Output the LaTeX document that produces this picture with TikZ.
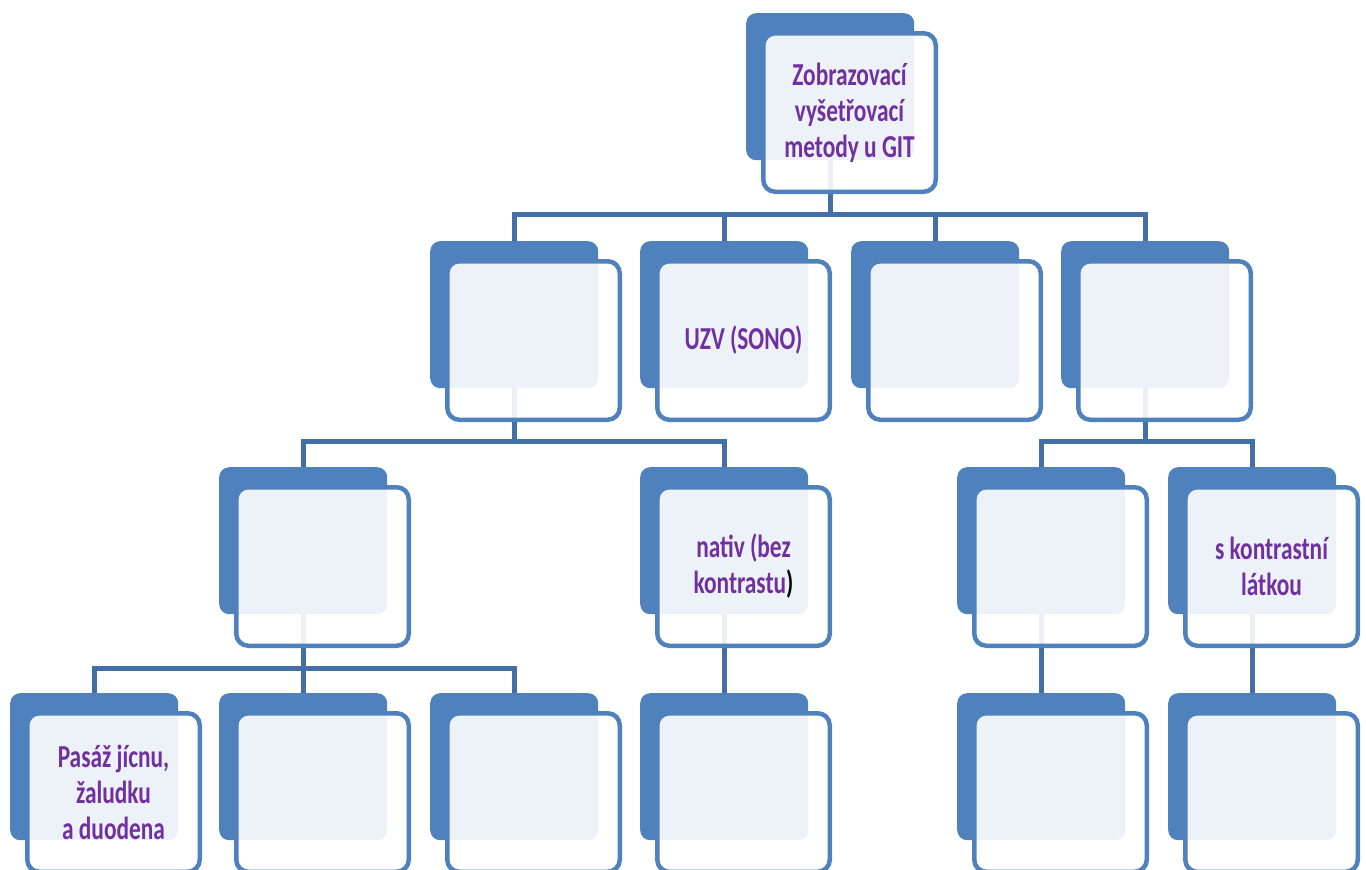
\documentclass[tikz,border=0pt]{standalone}
\usepackage{fontspec}
\setmainfont{Carlito}[FakeStretch=0.73]
\usetikzlibrary{backgrounds}
\definecolor{dlazdice}{RGB}{79,129,189}
\definecolor{spojnice}{RGB}{68,110,166}
\definecolor{pismo}{RGB}{112,48,160}
\tikzset{
  zadni/.style={fill=dlazdice, rounded corners=10pt, anchor=north west,
    minimum width=168pt, minimum height=147pt, inner sep=0pt},
  predni/.style={draw=dlazdice, line width=4.5pt, fill=white, fill opacity=0.9,
    text opacity=1, rounded corners=12pt, anchor=north west,
    minimum width=172.5pt, minimum height=158.5pt, inner sep=0pt,
    text=pismo, align=center, font=\fontsize{32}{36}\selectfont\bfseries},
  spoj/.style={draw=spojnice, line width=5pt}
}
\begin{document}
\begin{tikzpicture}[x=1pt, y=-1pt]
    \useasboundingbox (0,0) rectangle (1366,870);
    \clip (0,0) rectangle (1366,870);

    % Top box
    \node[zadni] (git-b) at (746,13) {};
    \node[predni] (git) at (761,31) {Zobrazovací\\vyšetřovací\\metody u GIT};

    % Second row
    \node[zadni] (rtg-b) at (430,241) {};
    \node[predni] (rtg) at (445,259) {};
    \node[zadni] (uzv-b) at (640,241) {};
    \node[predni] (uzv) at (655,259) {UZV (SONO)};
    \node[zadni] (ct-b) at (851,241) {};
    \node[predni] (ct) at (866,259) {};
    \node[zadni] (mr-b) at (1061,241) {};
    \node[predni] (mr) at (1076,259) {};

    % Third row
    \node[zadni] (kont-b) at (219,467) {};
    \node[predni] (kont) at (234,485) {};
    \node[zadni] (nativ-b) at (640,467) {};
    \node[predni] (nativ) at (655,485) {nativ (bez\\kontrastu{\color{black})}};
    \node[zadni] (mrn-b) at (957,467) {};
    \node[predni] (mrn) at (972,485) {};
    \node[zadni] (mrk-b) at (1168,467) {};
    \node[predni] (mrk) at (1183,485) {s kontrastní\\látkou};

    % Bottom row
    \node[zadni] (pasaz-b) at (10,693) {};
    \node[predni] (pasaz) at (25,711) {Pasáž jícnu,\\žaludku\\a duodena};
    \node[zadni] (strevo-b) at (219,693) {};
    \node[predni] (strevo) at (234,711) {};
    \node[zadni] (irrig-b) at (430,693) {};
    \node[predni] (irrig) at (445,711) {};
    \node[zadni] (nativ2-b) at (640,693) {};
    \node[predni] (nativ2) at (655,711) {};
    \node[zadni] (mrn2-b) at (957,693) {};
    \node[predni] (mrn2) at (972,711) {};
    \node[zadni] (mrk2-b) at (1168,693) {};
    \node[predni] (mrk2) at (1183,711) {};

    % Connectors behind the boxes
    \begin{scope}[on background layer]
        \coordinate (lista1) at (git-b.center |- 0,214);
        \coordinate (lista2) at (rtg-b.center |- 0,441);
        \coordinate (lista3) at (mr-b.center |- 0,441);
        \coordinate (lista4) at (kont-b.center |- 0,668);

        \foreach \dite in {rtg,uzv,ct,mr}
            \draw[spoj] (git-b.center) -- (lista1) -| (\dite-b.north);
        \foreach \dite in {kont,nativ}
            \draw[spoj] (rtg-b.center) -- (lista2) -| (\dite-b.north);
        \foreach \dite in {mrn,mrk}
            \draw[spoj] (mr-b.center) -- (lista3) -| (\dite-b.north);
        \foreach \dite in {pasaz,strevo,irrig}
            \draw[spoj] (kont-b.center) -- (lista4) -| (\dite-b.north);

        \draw[spoj] (nativ-b.center) -- (nativ2-b.north);
        \draw[spoj] (mrn-b.center) -- (mrn2-b.north);
        \draw[spoj] (mrk-b.center) -- (mrk2-b.north);
    \end{scope}
\end{tikzpicture}
\end{document}
